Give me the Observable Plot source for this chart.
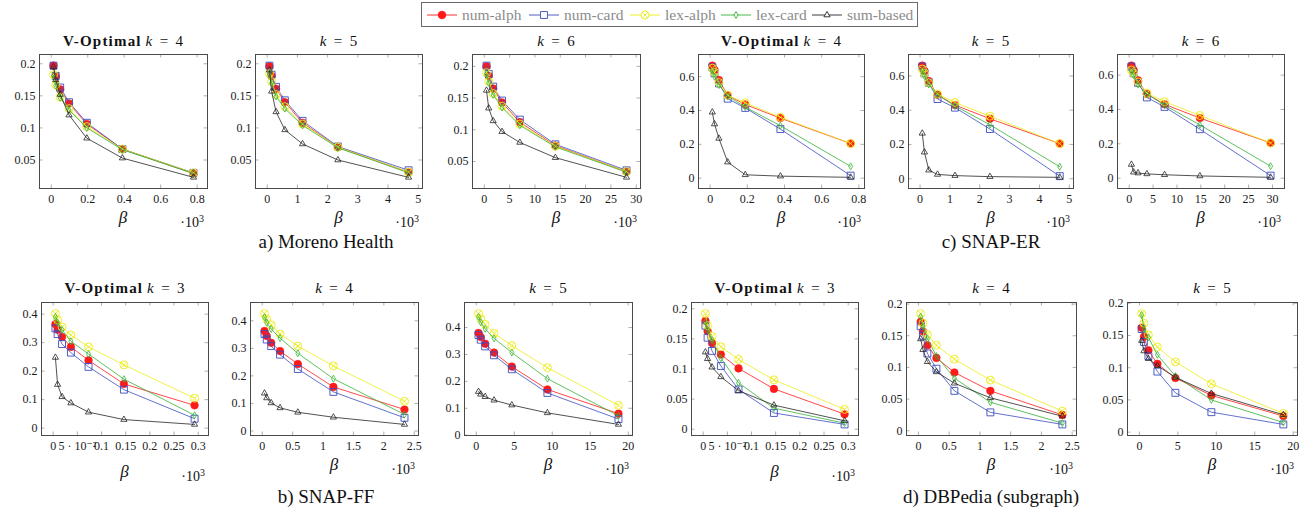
<!DOCTYPE html>
<html><head><meta charset="utf-8">
<script src="https://cdn.jsdelivr.net/npm/d3@7"></script>
<script src="https://cdn.jsdelivr.net/npm/@observablehq/plot@0.6"></script>
<style>
body{margin:0;background:#fff;}
#root{position:relative;width:1313px;height:510px;overflow:hidden;font-family:"Liberation Serif","DejaVu Serif",serif;color:#111;}
#root svg, #root svg text{font-family:"Liberation Serif","DejaVu Serif",serif !important;}
#root svg.panel{font-size:12px !important;}
.lbl{position:absolute;white-space:nowrap;transform:translate(-50%,-50%);line-height:1;}
.ttl{font-size:15px;}
.ttl b{letter-spacing:1.2px;}
.beta{font-size:17px;font-style:italic;}
.mult{position:absolute;white-space:nowrap;font-size:14px;line-height:1;transform:translate(-100%,-50%);}
.mult sup{font-size:10px;vertical-align:5px;}
.cap{font-size:19px;}
</style></head><body><div id="root"></div>
<script>
// ---------------- data ----------------
const seriesNames = ["num-alph", "num-card", "lex-alph", "lex-card", "sum-based"];

// beta values (in units of 10^3)
const betaMoreno4 = [0.0122, 0.0244, 0.0488, 0.0975, 0.195, 0.39, 0.78];
const betaMoreno5 = [0.073, 0.146, 0.2925, 0.585, 1.17, 2.34, 4.68];
const betaMoreno6 = [0.439, 0.8775, 1.755, 3.51, 7.02, 14.04, 28.08];
const betaEr4 = [0.0118, 0.0236, 0.0473, 0.0945, 0.189, 0.378, 0.756];
const betaEr5 = [0.073, 0.146, 0.2925, 0.585, 1.17, 2.34, 4.68];
const betaEr6 = [0.4625, 0.925, 1.85, 3.7, 7.4, 14.8, 29.6];
const betaK3 = [0.0046, 0.0091, 0.0183, 0.0366, 0.0731, 0.1463, 0.2925];
const betaK4 = [0.0366, 0.0731, 0.1463, 0.2925, 0.585, 1.17, 2.34];
const betaK5 = [0.2925, 0.585, 1.17, 2.34, 4.68, 9.36, 18.72];

// values: rows in order num-alph, num-card, lex-alph, lex-card, sum-based
const morenoK4 = [
  [0.197, 0.180, 0.160, 0.138, 0.106, 0.067, 0.029],
  [0.197, 0.181, 0.163, 0.140, 0.108, 0.067, 0.030],
  [0.183, 0.167, 0.148, 0.130, 0.102, 0.067, 0.030],
  [0.182, 0.166, 0.147, 0.128, 0.100, 0.066, 0.029],
  [0.195, 0.175, 0.152, 0.120, 0.084, 0.053, 0.023]];
const morenoK5 = [
  [0.196, 0.181, 0.161, 0.140, 0.108, 0.070, 0.031],
  [0.197, 0.183, 0.164, 0.143, 0.111, 0.071, 0.034],
  [0.185, 0.172, 0.152, 0.133, 0.106, 0.070, 0.031],
  [0.184, 0.170, 0.149, 0.130, 0.104, 0.069, 0.030],
  [0.190, 0.157, 0.125, 0.097, 0.075, 0.050, 0.023]];
const morenoK6 = [
  [0.200, 0.185, 0.165, 0.143, 0.112, 0.075, 0.034],
  [0.201, 0.188, 0.168, 0.146, 0.116, 0.077, 0.036],
  [0.190, 0.176, 0.157, 0.137, 0.109, 0.074, 0.034],
  [0.188, 0.174, 0.155, 0.135, 0.107, 0.073, 0.033],
  [0.162, 0.134, 0.114, 0.097, 0.080, 0.056, 0.025]];
const erK4 = [
  [0.665, 0.640, 0.580, 0.490, 0.435, 0.355, 0.205],
  [0.655, 0.620, 0.560, 0.470, 0.415, 0.290, 0.015],
  [0.650, 0.625, 0.565, 0.490, 0.445, 0.360, 0.205],
  [0.635, 0.600, 0.550, 0.485, 0.420, 0.310, 0.070],
  [0.390, 0.320, 0.235, 0.095, 0.020, 0.012, 0.005]];
const erK5 = [
  [0.660, 0.630, 0.570, 0.490, 0.430, 0.350, 0.205],
  [0.655, 0.615, 0.560, 0.465, 0.415, 0.290, 0.015],
  [0.640, 0.615, 0.560, 0.495, 0.445, 0.365, 0.205],
  [0.630, 0.600, 0.550, 0.490, 0.425, 0.315, 0.070],
  [0.265, 0.155, 0.050, 0.025, 0.018, 0.012, 0.008]];
const erK6 = [
  [0.655, 0.630, 0.570, 0.490, 0.430, 0.350, 0.205],
  [0.650, 0.610, 0.555, 0.470, 0.415, 0.285, 0.015],
  [0.630, 0.610, 0.560, 0.495, 0.445, 0.365, 0.205],
  [0.625, 0.600, 0.545, 0.490, 0.425, 0.310, 0.070],
  [0.080, 0.035, 0.030, 0.025, 0.020, 0.013, 0.005]];
const ffK3 = [
  [0.365, 0.345, 0.320, 0.285, 0.238, 0.155, 0.080],
  [0.350, 0.330, 0.295, 0.265, 0.215, 0.135, 0.033],
  [0.402, 0.380, 0.355, 0.327, 0.285, 0.222, 0.105],
  [0.390, 0.370, 0.345, 0.305, 0.260, 0.172, 0.045],
  [0.248, 0.153, 0.110, 0.088, 0.056, 0.030, 0.013]];
const ffK4 = [
  [0.363, 0.345, 0.320, 0.290, 0.243, 0.160, 0.078],
  [0.352, 0.332, 0.308, 0.277, 0.225, 0.142, 0.048],
  [0.426, 0.406, 0.385, 0.352, 0.308, 0.236, 0.108],
  [0.413, 0.393, 0.370, 0.337, 0.282, 0.190, 0.060],
  [0.137, 0.120, 0.102, 0.084, 0.068, 0.050, 0.024]];
const ffK5 = [
  [0.380, 0.365, 0.340, 0.307, 0.255, 0.170, 0.080],
  [0.372, 0.355, 0.330, 0.297, 0.245, 0.157, 0.060],
  [0.452, 0.433, 0.412, 0.378, 0.333, 0.251, 0.111],
  [0.440, 0.420, 0.395, 0.360, 0.307, 0.210, 0.072],
  [0.162, 0.152, 0.143, 0.130, 0.112, 0.083, 0.040]];
const dbK3 = [
  [0.180, 0.163, 0.143, 0.124, 0.101, 0.067, 0.025],
  [0.172, 0.152, 0.130, 0.105, 0.066, 0.027, 0.008],
  [0.192, 0.172, 0.154, 0.137, 0.116, 0.082, 0.033],
  [0.178, 0.165, 0.148, 0.118, 0.077, 0.035, 0.010],
  [0.128, 0.117, 0.103, 0.087, 0.064, 0.040, 0.014]];
const dbK4 = [
  [0.172, 0.157, 0.135, 0.115, 0.092, 0.063, 0.025],
  [0.165, 0.150, 0.122, 0.098, 0.063, 0.029, 0.010],
  [0.185, 0.170, 0.152, 0.135, 0.113, 0.080, 0.031],
  [0.180, 0.165, 0.145, 0.118, 0.083, 0.045, 0.012],
  [0.145, 0.128, 0.109, 0.093, 0.075, 0.052, 0.023]];
const dbK5 = [
  [0.162, 0.148, 0.127, 0.106, 0.084, 0.057, 0.025],
  [0.160, 0.140, 0.118, 0.094, 0.061, 0.031, 0.012],
  [0.184, 0.169, 0.151, 0.132, 0.109, 0.075, 0.029],
  [0.182, 0.160, 0.147, 0.120, 0.087, 0.050, 0.015],
  [0.142, 0.126, 0.114, 0.103, 0.085, 0.060, 0.027]];

// tick values and labels
const xTicks08 = [0, 0.2, 0.4, 0.6, 0.8], xLabels08 = ["0", "0.2", "0.4", "0.6", "0.8"];
const xTicks5 = [0, 1, 2, 3, 4, 5], xLabels5 = ["0", "1", "2", "3", "4", "5"];
const xTicks30 = [0, 5, 10, 15, 20, 25, 30], xLabels30 = ["0", "5", "10", "15", "20", "25", "30"];
const xTicks03 = [0, 0.05, 0.1, 0.15, 0.2, 0.25, 0.3], xLabels03 = ["0", "5 · 10⁻²", "0.1", "0.15", "0.2", "0.25", "0.3"];
const xTicks25 = [0, 0.5, 1, 1.5, 2, 2.5], xLabels25 = ["0", "0.5", "1", "1.5", "2", "2.5"];
const xTicks20 = [0, 5, 10, 15, 20], xLabels20 = ["0", "5", "10", "15", "20"];
const yTicksMoreno = [0.05, 0.1, 0.15, 0.2], yLabelsMoreno = ["0.05", "0.1", "0.15", "0.2"];
const yTicksEr = [0, 0.2, 0.4, 0.6], yLabelsEr = ["0", "0.2", "0.4", "0.6"];
const yTicksFf = [0, 0.1, 0.2, 0.3, 0.4], yLabelsFf = ["0", "0.1", "0.2", "0.3", "0.4"];
const yTicksDb = [0, 0.05, 0.1, 0.15, 0.2], yLabelsDb = ["0", "0.05", "0.1", "0.15", "0.2"];

const captions = ["a) Moreno Health", "b) SNAP-FF", "c) SNAP-ER", "d) DBPedia (subgraph)"];

// ---------------- styles ----------------
const colors = ["#ff1a1a", "#3b4cc0", "#ecec1a", "#36b336", "#262626"];
const FONT = "'Liberation Serif', 'DejaVu Serif', serif";

const panels = [
  {betas: betaMoreno4, vals: morenoK4, xt: xTicks08, xl: xLabels08, yt: yTicksMoreno, yl: yLabelsMoreno, v: true, k: 4, box: [39, 54, 207, 188]},
  {betas: betaMoreno5, vals: morenoK5, xt: xTicks5, xl: xLabels5, yt: yTicksMoreno, yl: yLabelsMoreno, v: false, k: 5, box: [255, 54, 422, 188]},
  {betas: betaMoreno6, vals: morenoK6, xt: xTicks30, xl: xLabels30, yt: yTicksMoreno, yl: yLabelsMoreno, v: false, k: 6, box: [472, 54, 640, 188]},
  {betas: betaEr4, vals: erK4, xt: xTicks08, xl: xLabels08, yt: yTicksEr, yl: yLabelsEr, v: true, k: 4, box: [698, 54, 864, 188]},
  {betas: betaEr5, vals: erK5, xt: xTicks5, xl: xLabels5, yt: yTicksEr, yl: yLabelsEr, v: false, k: 5, box: [908, 54, 1073, 188]},
  {betas: betaEr6, vals: erK6, xt: xTicks30, xl: xLabels30, yt: yTicksEr, yl: yLabelsEr, v: false, k: 6, box: [1117, 54, 1284, 188]},
  {betas: betaK3, vals: ffK3, xt: xTicks03, xl: xLabels03, yt: yTicksFf, yl: yLabelsFf, v: true, k: 3, box: [41, 302, 208, 435], low: true},
  {betas: betaK4, vals: ffK4, xt: xTicks25, xl: xLabels25, yt: yTicksFf, yl: yLabelsFf, v: false, k: 4, box: [250, 302, 418, 435]},
  {betas: betaK5, vals: ffK5, xt: xTicks20, xl: xLabels20, yt: yTicksFf, yl: yLabelsFf, v: false, k: 5, box: [464, 302, 632, 435]},
  {betas: betaK3, vals: dbK3, xt: xTicks03, xl: xLabels03, yt: yTicksDb, yl: yLabelsDb, v: true, k: 3, box: [691, 302, 858, 435], low: true},
  {betas: betaK4, vals: dbK4, xt: xTicks25, xl: xLabels25, yt: yTicksDb, yl: yLabelsDb, v: false, k: 4, box: [906, 302, 1076, 435]},
  {betas: betaK5, vals: dbK5, xt: xTicks20, xl: xLabels20, yt: yTicksDb, yl: yLabelsDb, v: false, k: 5, box: [1127, 302, 1297, 435]}
];

const root = document.getElementById("root");

function addLabel(html, x, y, cls) {
  const d = document.createElement("div");
  d.className = cls;
  d.innerHTML = html;
  d.style.left = x + "px";
  d.style.top = y + "px";
  root.appendChild(d);
}

function enlarge(ext) {
  const pad = 0.1 * (ext[1] - ext[0]);
  return [ext[0] - pad, ext[1] + pad];
}

function seriesMarks(rows, s) {
  const data = rows.filter(d => d.s === s);
  const c = colors[s];
  const m = [Plot.line(data, {x: "beta", y: "v", stroke: c, strokeWidth: 0.8})];
  if (s === 0) m.push(Plot.dot(data, {x: "beta", y: "v", symbol: "circle", r: 3.8, fill: c, stroke: c, strokeWidth: 0.6}));
  if (s === 1) m.push(Plot.dot(data, {x: "beta", y: "v", symbol: "square", r: 3.9, fill: "none", stroke: c, strokeWidth: 0.9}));
  if (s === 2) {
    m.push(Plot.dot(data, {x: "beta", y: "v", symbol: "circle", r: 4, fill: "none", stroke: c, strokeWidth: 0.9}));
    m.push(Plot.dot(data, {x: "beta", y: "v", symbol: "times", r: 2.8, fill: "none", stroke: c, strokeWidth: 0.9}));
  }
  if (s === 3) m.push(Plot.dot(data, {x: "beta", y: "v", symbol: "diamond", r: 2.1, fill: "none", stroke: c, strokeWidth: 0.8}));
  if (s === 4) m.push(Plot.dot(data, {x: "beta", y: "v", symbol: "triangle", r: 2.3, fill: "none", stroke: c, strokeWidth: 0.8}));
  return m;
}

panels.forEach(p => {
  const [x0, y0, x1, y1] = p.box;
  const iw = x1 - x0, ih = y1 - y0;
  const mL = 42, mR = 14, mT = 4, mB = 34;
  const rows = [];
  p.vals.forEach((arr, s) => arr.forEach((v, i) => rows.push({s, beta: p.betas[i], v})));
  const xd = enlarge(d3.extent(p.betas));
  const yd = enlarge(d3.extent(p.vals.flat()));
  const tl = 3.5;
  const marks = [
    Plot.tickX(p.xt, {x: d => d, insetTop: ih - tl, stroke: "#9a9a9a", strokeWidth: 0.8}),
    Plot.tickX(p.xt, {x: d => d, insetBottom: ih - tl, stroke: "#9a9a9a", strokeWidth: 0.8}),
    Plot.tickY(p.yt, {y: d => d, insetRight: iw - tl, stroke: "#9a9a9a", strokeWidth: 0.8}),
    Plot.tickY(p.yt, {y: d => d, insetLeft: iw - tl, stroke: "#9a9a9a", strokeWidth: 0.8})
  ];
  for (let s = 0; s < 5; s++) marks.push(...seriesMarks(rows, s));
  marks.push(Plot.frame({stroke: "#4a4a4a", strokeWidth: 1}));
  const svg = Plot.plot({
    width: iw + mL + mR, height: ih + mT + mB,
    marginLeft: mL, marginRight: mR, marginTop: mT, marginBottom: mB,
    style: "font-family: 'Liberation Serif', 'DejaVu Serif', serif; font-size: 12px; color: #1a1a1a; background: transparent; overflow: visible;",
    x: {domain: xd, ticks: p.xt, tickFormat: d => p.xl[p.xt.indexOf(d)], tickSize: 0, tickPadding: 6, label: null},
    y: {domain: yd, ticks: p.yt, tickFormat: d => p.yl[p.yt.indexOf(d)], tickSize: 0, tickPadding: 4, label: null},
    marks
  });
  svg.classList.add("panel");
  svg.style.position = "absolute";
  svg.style.left = (x0 - mL) + "px";
  svg.style.top = (y0 - mT) + "px";
  svg.style.maxWidth = "none";
  root.appendChild(svg);

  const cx = (x0 + x1) / 2;
  const top = y0 < 200;
  const title = (p.v ? "<b>V-Optimal</b>&nbsp;" : "") + "<i>k</i>&ensp;=&ensp;" + p.k;
  addLabel(title, cx, top ? 41 : 288, "lbl ttl");
  const by = top ? 217 : (p.low ? 471 : 464);
  addLabel("β", cx, by, "lbl beta");
  addLabel("·10<sup>3</sup>", x1 - 3, by + 5, "mult");
});

// captions
addLabel(captions[0], 326, 241, "lbl cap");
addLabel(captions[2], 991, 241, "lbl cap");
addLabel(captions[1], 326, 496, "lbl cap");
addLabel(captions[3], 991, 496, "lbl cap");

// legend
const lg = d3.select(root).append("svg")
  .attr("width", 1313).attr("height", 32)
  .style("position", "absolute").style("left", "0px").style("top", "0px");
lg.append("rect").attr("x", 421.5).attr("y", 2.5).attr("width", 496).attr("height", 24)
  .attr("fill", "white").attr("stroke", "#6a6a6a").attr("stroke-width", 1);
const itemX = [427, 529, 630, 721, 812];
const symbols = [d3.symbolCircle, d3.symbolSquare, d3.symbolCircle, d3.symbolDiamond, d3.symbolTriangle];
const sizes = [Math.PI * 3.8 * 3.8, Math.PI * 3.9 * 3.9, Math.PI * 4 * 4, Math.PI * 2.1 * 2.1, Math.PI * 2.3 * 2.3];
seriesNames.forEach((name, s) => {
  const x = itemX[s], y = 15;
  const g = lg.append("g");
  g.append("line").attr("x1", x).attr("x2", x + 30).attr("y1", y).attr("y2", y).attr("stroke", colors[s]).attr("stroke-width", 0.9);
  g.append("path").attr("d", d3.symbol(symbols[s], sizes[s])()).attr("transform", `translate(${x + 15},${y})`)
    .attr("fill", s === 0 ? colors[s] : "white").attr("stroke", colors[s]).attr("stroke-width", 0.9);
  if (s === 2) g.append("path").attr("d", d3.symbol(d3.symbolTimes, Math.PI * 2.8 * 2.8)()).attr("transform", `translate(${x + 15},${y})`)
    .attr("fill", "none").attr("stroke", colors[s]).attr("stroke-width", 0.9);
  g.append("text").attr("x", x + 35).attr("y", y).attr("dy", "0.35em").text(name)
    .attr("font-family", FONT).attr("font-size", 15.5).attr("fill", "#8c8c8c");
});
</script>
</body></html>
